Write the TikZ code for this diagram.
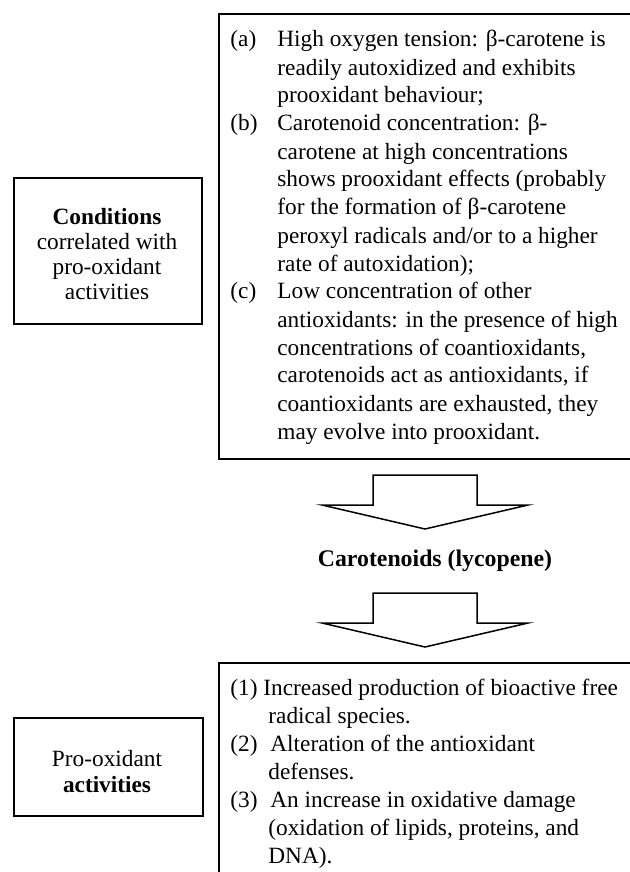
\documentclass[tikz,border=0pt]{standalone}
\usepackage{fontspec}
\setmainfont{Liberation Serif}
\newcommand{\itemlbl}[2]{\makebox[#1][l]{#2}}
\begin{document}
\begin{tikzpicture}[x=0.5pt,y=-0.5pt,
  box/.style={draw, line width=1pt, inner sep=0pt, anchor=north west},
  txt/.style={inner sep=0pt, font=\fontsize{11.65}{14}\selectfont},
  blk/.style={draw, line width=0.75pt, line join=miter},
  blockarrow/.pic={\draw[blk] (-52,0) -- (52,0) -- (52,30) -- (103,30) -- (0,54) -- (-103,30) -- (-52,30) -- cycle;}]
\useasboundingbox (0,0) rectangle (630,872);
\clip (0,0) rectangle (630,872);
% boxes
\node[box, minimum width=94pt, minimum height=73pt] (cond) at (13,177) {};
\node[box, minimum width=230pt, minimum height=222.5pt] (topbox) at (218,13) {};
\node[box, minimum width=94.5pt, minimum height=49pt] (pro) at (13,717) {};
\node[box, minimum width=230pt, minimum height=115pt] (botbox) at (218,662) {};
% texts
\node[txt, anchor=base] (condtext) at (107,224) {\parbox[t]{92pt}{\centering
\fontsize{11.65}{12.5}\selectfont
\textbf{Conditions}\\
correlated with\\
pro-oxidant\\
activities}};
\node[txt, anchor=base] (protext) at (107,766) {\parbox[t]{92pt}{\centering
\fontsize{11.65}{13}\selectfont
Pro-oxidant\\
\textbf{activities}}};
\node[txt, anchor=base west] (toplist) at (230,47) {\parbox[t]{215pt}{\raggedright
\itemlbl{23.5pt}{(a)}High oxygen tension: β-carotene is\\
\hspace*{23.5pt}readily autoxidized and exhibits\\
\hspace*{23.5pt}prooxidant behaviour;\\
\itemlbl{23.5pt}{(b)}Carotenoid concentration: β-\\
\hspace*{23.5pt}carotene at high concentrations\\
\hspace*{23.5pt}shows prooxidant effects (probably\\
\hspace*{23.5pt}for the formation of β-carotene\\
\hspace*{23.5pt}peroxyl radicals and/or to a higher\\
\hspace*{23.5pt}rate of autoxidation);\\
\itemlbl{23.5pt}{(c)}Low concentration of other\\
\hspace*{23.5pt}antioxidants: in the presence of high\\
\hspace*{23.5pt}concentrations of coantioxidants,\\
\hspace*{23.5pt}carotenoids act as antioxidants, if\\
\hspace*{23.5pt}coantioxidants are exhausted, they\\
\hspace*{23.5pt}may evolve into prooxidant.}};
\node[txt, anchor=base west] (botlist) at (230,695) {\parbox[t]{215pt}{\raggedright
(1) Increased production of bioactive free\\
\hspace*{19pt}radical species.\\
\itemlbl{20pt}{(2)}Alteration of the antioxidant\\
\hspace*{19pt}defenses.\\
\itemlbl{20pt}{(3)}An increase in oxidative damage\\
\hspace*{19pt}(oxidation of lipids, proteins, and\\
\hspace*{19pt}DNA).}};
\node[inner sep=0pt, anchor=base, font=\bfseries\fontsize{11.9}{14}\selectfont] (caro) at (435,566) {Carotenoids (lycopene)};
% block arrows
\pic at (425,475) {blockarrow};
\pic at (425,593) {blockarrow};
\end{tikzpicture}
\end{document}
